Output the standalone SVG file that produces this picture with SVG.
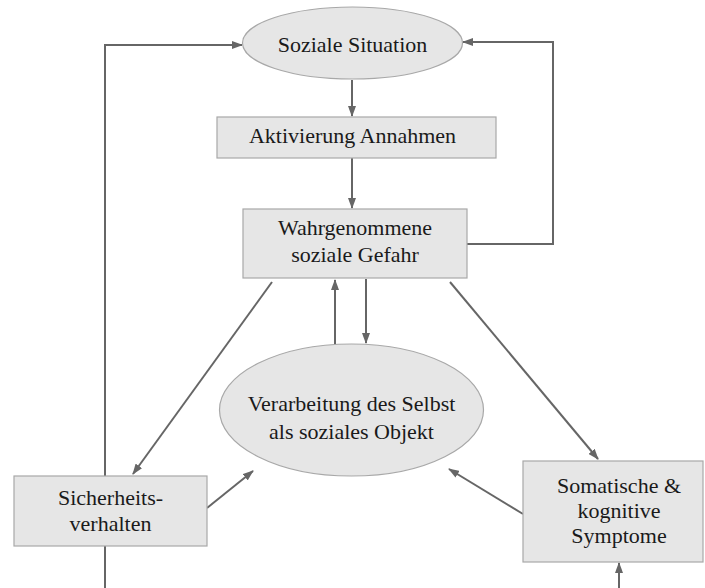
<svg xmlns="http://www.w3.org/2000/svg" width="705" height="588" viewBox="0 0 705 588">
  <style>
    .node { fill: #e6e6e6; stroke: #a8a8a8; stroke-width: 1.2; }
    .label { font-family: "Liberation Serif", "Times New Roman", serif; font-size: 22px; fill: #1a1a1a; text-anchor: middle; }
    .edge { fill: none; stroke: #666666; stroke-width: 2; }
  </style>
  <defs>
    <marker id="arrow" markerUnits="userSpaceOnUse" markerWidth="11" markerHeight="8" refX="10" refY="4" orient="auto">
      <path d="M0,0 L11,4 L0,8 z" fill="#666666"/>
    </marker>
  </defs>
  <rect width="705" height="588" fill="#ffffff"/>

  <g id="connectors">
    <!-- main chain -->
    <line class="edge" x1="352" y1="80" x2="352" y2="116" marker-end="url(#arrow)"/>
    <line class="edge" x1="352" y1="158" x2="352" y2="208" marker-end="url(#arrow)"/>
    <!-- feedback loops -->
    <polyline class="edge" points="467,244 553,244 553,42 463,42" marker-end="url(#arrow)"/>
    <polyline class="edge" points="105,476 105,45 242,45" marker-end="url(#arrow)"/>
    <line class="edge" x1="105" y1="546" x2="105" y2="588"/>
    <line class="edge" x1="619" y1="588" x2="619" y2="563" marker-end="url(#arrow)"/>
    <!-- threat <-> self processing -->
    <line class="edge" x1="335" y1="344" x2="335" y2="280" marker-end="url(#arrow)"/>
    <line class="edge" x1="366" y1="279" x2="366" y2="343" marker-end="url(#arrow)"/>
    <!-- diagonals -->
    <line class="edge" x1="272" y1="282" x2="133" y2="474" marker-end="url(#arrow)"/>
    <line class="edge" x1="450" y1="282" x2="598" y2="459" marker-end="url(#arrow)"/>
    <line class="edge" x1="207" y1="508" x2="253" y2="471" marker-end="url(#arrow)"/>
    <line class="edge" x1="523" y1="514" x2="449" y2="469" marker-end="url(#arrow)"/>
  </g>

  <g id="soziale-situation">
    <ellipse class="node" cx="352.5" cy="43" rx="110" ry="36"/>
    <text class="label" x="352.5" y="52">Soziale Situation</text>
  </g>

  <g id="aktivierung-annahmen">
    <rect class="node" x="217" y="117" width="279" height="41"/>
    <text class="label" x="352.5" y="143">Aktivierung Annahmen</text>
  </g>

  <g id="wahrgenommene-gefahr">
    <rect class="node" x="243" y="209" width="224" height="69"/>
    <text class="label" x="355" y="235">Wahrgenommene</text>
    <text class="label" x="355" y="262">soziale Gefahr</text>
  </g>

  <g id="verarbeitung-selbst">
    <ellipse class="node" cx="351.5" cy="410" rx="132" ry="66"/>
    <text class="label" x="351.5" y="411">Verarbeitung des Selbst</text>
    <text class="label" x="351.5" y="439">als soziales Objekt</text>
  </g>

  <g id="sicherheitsverhalten">
    <rect class="node" x="14" y="476" width="193" height="70"/>
    <text class="label" x="110.5" y="505">Sicherheits-</text>
    <text class="label" x="110.5" y="531">verhalten</text>
  </g>

  <g id="symptome">
    <rect class="node" x="523" y="461" width="180" height="101"/>
    <text class="label" x="619" y="493">Somatische &amp;</text>
    <text class="label" x="619" y="518">kognitive</text>
    <text class="label" x="619" y="543">Symptome</text>
  </g>
</svg>
